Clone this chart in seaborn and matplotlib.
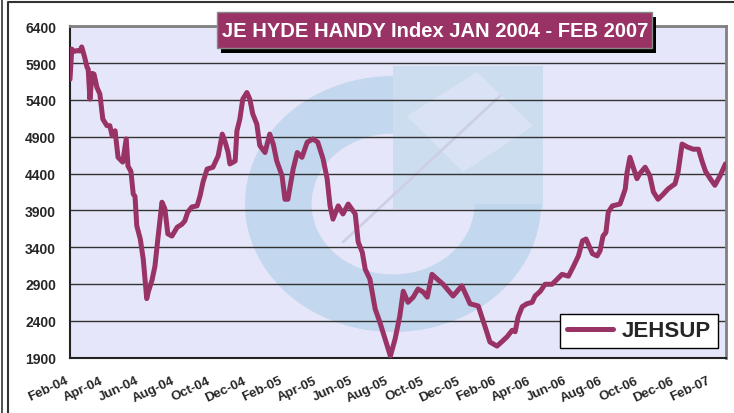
import matplotlib
matplotlib.use("Agg")
import matplotlib.pyplot as plt
import matplotlib.dates as mdates
from matplotlib.patches import Wedge, Rectangle, Polygon
from matplotlib.lines import Line2D
from matplotlib.transforms import Affine2D, ScaledTranslation
import seaborn as sns
import pandas as pd

# ---------------- data ----------------
dates = [
    "2004-02-01", "2004-02-04", "2004-02-08", "2004-02-14", "2004-02-18", "2004-02-21",
    "2004-02-26", "2004-03-01", "2004-03-03", "2004-03-06", "2004-03-10", "2004-03-13",
    "2004-03-18", "2004-03-23", "2004-03-28", "2004-04-04", "2004-04-09", "2004-04-13",
    "2004-04-18", "2004-04-23", "2004-05-01", "2004-05-07", "2004-05-10", "2004-05-15",
    "2004-05-19", "2004-05-22", "2004-05-25", "2004-05-31", "2004-06-05", "2004-06-11",
    "2004-06-14", "2004-06-20", "2004-06-25", "2004-06-30", "2004-07-07", "2004-07-12",
    "2004-07-17", "2004-07-24", "2004-08-02", "2004-08-10", "2004-08-15", "2004-08-20",
    "2004-08-27", "2004-09-05", "2004-09-10", "2004-09-15", "2004-09-22", "2004-10-02",
    "2004-10-11", "2004-10-18", "2004-10-23", "2004-10-28", "2004-10-31", "2004-11-09",
    "2004-11-12", "2004-11-17", "2004-11-22", "2004-11-29", "2004-12-04", "2004-12-09",
    "2004-12-16", "2004-12-21", "2004-12-30", "2005-01-07", "2005-01-13", "2005-01-19",
    "2005-01-28", "2005-02-02", "2005-02-07", "2005-02-16", "2005-02-23", "2005-03-03",
    "2005-03-12", "2005-03-22", "2005-03-30", "2005-04-08", "2005-04-15", "2005-04-20",
    "2005-04-25", "2005-05-04", "2005-05-12", "2005-05-21", "2005-06-02", "2005-06-07",
    "2005-06-14", "2005-06-19", "2005-06-27", "2005-07-06", "2005-07-14", "2005-07-23",
    "2005-08-01", "2005-08-09", "2005-08-17", "2005-08-23", "2005-08-31", "2005-09-09",
    "2005-09-17", "2005-09-26", "2005-10-03", "2005-10-11", "2005-10-20", "2005-10-30",
    "2005-11-16", "2005-12-01", "2005-12-15", "2005-12-29", "2006-01-10", "2006-01-18",
    "2006-01-30", "2006-02-08", "2006-02-16", "2006-02-25", "2006-03-02", "2006-03-07",
    "2006-03-14", "2006-03-22", "2006-03-31", "2006-04-05", "2006-04-14", "2006-04-22",
    "2006-05-04", "2006-05-13", "2006-05-21", "2006-06-01", "2006-06-09", "2006-06-18",
    "2006-06-25", "2006-07-01", "2006-07-12", "2006-07-20", "2006-07-25", "2006-07-30",
    "2006-08-04", "2006-08-08", "2006-08-15", "2006-08-28", "2006-09-02", "2006-09-06",
    "2006-09-09", "2006-09-14", "2006-09-19", "2006-09-26", "2006-10-01", "2006-10-10",
    "2006-10-18", "2006-10-24", "2006-11-01", "2006-11-10", "2006-11-18", "2006-11-30",
    "2006-12-05", "2006-12-12", "2006-12-21", "2006-12-31", "2007-01-09", "2007-01-15",
    "2007-01-21", "2007-01-29", "2007-02-06", "2007-02-15", "2007-02-24",
]
jehsup = [
    5680, 6090, 6060, 6070, 6065, 6120,
    5980, 5845, 5820, 5410, 5760, 5750,
    5570, 5480, 5140, 5050, 5050, 4910,
    4980, 4620, 4555, 4870, 4500, 4430,
    4120, 4090, 3690, 3510, 3240, 2700,
    2800, 2950, 3140, 3510, 4010, 3920,
    3580, 3550, 3670, 3710, 3755, 3875,
    3945, 3960, 4095, 4280, 4460, 4485,
    4640, 4935, 4825, 4685, 4530, 4570,
    4980, 5140, 5410, 5500, 5410, 5210,
    5070, 4780, 4685, 4935, 4800, 4570,
    4370, 4050, 4050, 4460, 4685, 4620,
    4825, 4870, 4825, 4600, 4330, 3960,
    3780, 3960, 3850, 3985, 3850, 3470,
    3330, 3100, 2965, 2560, 2380, 2150,
    1920, 2150, 2460, 2800, 2650, 2720,
    2830, 2790, 2720, 3030, 2965, 2895,
    2735, 2875, 2630, 2600, 2310, 2110,
    2055, 2120, 2180, 2270, 2250, 2450,
    2590, 2630, 2650, 2735, 2800, 2895,
    2895, 2965, 3030, 3005, 3130, 3280,
    3485, 3510, 3310, 3280, 3350, 3550,
    3600, 3875, 3960, 3985, 4095, 4190,
    4410, 4620, 4500, 4330, 4400, 4485,
    4370, 4150, 4050, 4120, 4190, 4260,
    4410, 4800, 4760, 4730, 4730, 4570,
    4430, 4330, 4240, 4370, 4530,
]
series_name = "JEHSUP"
title_text = "JE HYDE HANDY Index JAN 2004 - FEB 2007"
y_ticks = [1900, 2400, 2900, 3400, 3900, 4400, 4900, 5400, 5900, 6400]
x_start, x_end = "2004-02-01", "2007-02-25"

df = pd.DataFrame({"date": pd.to_datetime(dates), "value": jehsup, "series": series_name})

# ---------------- style ----------------
sns.set_style("white")
plt.rcParams["font.family"] = ["Liberation Sans", "DejaVu Sans"]
plt.rcParams["font.weight"] = "bold"

LINE = "#993366"
W, H = 734, 414
fig = plt.figure(figsize=(W / 100, H / 100), dpi=100)
fig.patch.set_facecolor("white")

L, R, T, B = 70, 726, 27.3, 358.5
ax = fig.add_axes([L / W, (H - B) / H, (R - L) / W, (B - T) / H])
ax.set_facecolor("#E6E6FA")


def px_trans(sx=1.0, sy=1.0, cx=0.0, cy=0.0):
    # coordinates given in image pixels (y downwards)
    return (Affine2D().scale(sx, sy).translate(cx, cy)
            + Affine2D().scale(1, -1).translate(0, H)
            + Affine2D().scale(1 / 100.0) + fig.dpi_scale_trans)


# watermark logo (approximation)
wm = []
wm.append(Rectangle((393, 67), 150, 143, transform=px_trans(), fc="#C9DCEF", ec="none"))
wm.append(Polygon([(477, 73), (533, 127), (463, 173), (407, 117)], closed=True,
                  transform=px_trans(), fc="#DDE5F6", ec="none"))
wm.append(Wedge((0, 0), 1.0, 0, 270, width=0.45, transform=px_trans(148, 128, 393, 205),
                fc="#BDD5EC", ec="none"))
for p in wm:
    p.set_zorder(0.2)
    p.set_alpha(0.85)
    ax.add_patch(p)
    p.set_clip_path(ax.patch)
ln = Line2D([343, 500], [243, 97], transform=px_trans(), color="#CDCFE6", lw=2.0, zorder=0.3)
ax.add_line(ln)
ln.set_clip_path(ax.patch)

sns.lineplot(data=df, x="date", y="value", hue="series", palette=[LINE], ax=ax,
             linewidth=3.6, legend=True, zorder=3)

ax.set_xlim(pd.Timestamp(x_start), pd.Timestamp(x_end))
ax.set_ylim(y_ticks[0], y_ticks[-1])
ax.set_yticks(y_ticks)
ax.xaxis.set_major_locator(mdates.MonthLocator(bymonth=[2, 4, 6, 8, 10, 12]))
ax.xaxis.set_major_formatter(mdates.DateFormatter("%b-%y"))
ax.set_xlabel("")
ax.set_ylabel("")

ax.set_axisbelow(True)
ax.yaxis.grid(True, color="#333333", lw=1.0)
ax.xaxis.grid(False)

for s in ["left", "bottom"]:
    ax.spines[s].set_color("#222222")
    ax.spines[s].set_linewidth(1.5)
for s in ["top", "right"]:
    ax.spines[s].set_color("#808080")
    ax.spines[s].set_linewidth(2.0)

ax.tick_params(axis="both", direction="out", length=4, width=1.2, color="#222222")
ax.tick_params(axis="y", labelsize=10, pad=6)
ax.tick_params(axis="x", labelsize=9.5, pad=8)
for lab in ax.get_yticklabels():
    lab.set_fontweight("bold")
shift = ScaledTranslation(-5 / 100.0, 0, fig.dpi_scale_trans)
for lab in ax.get_xticklabels():
    lab.set_fontweight("bold")
    lab.set_rotation(25)
    lab.set_ha("right")
    lab.set_va("top")
    lab.set_rotation_mode("anchor")
    lab.set_transform(lab.get_transform() + shift)

leg = ax.legend(loc="lower right", bbox_to_anchor=((718 - L) / (R - L), (B - 349) / (B - T)),
                borderaxespad=0, frameon=True, fancybox=False, framealpha=1,
                edgecolor="black", facecolor="white", handlelength=2.1,
                prop={"size": 16, "weight": "bold"}, borderpad=0.3, handletextpad=0.4)
leg.get_frame().set_linewidth(1.0)
for h in leg.get_lines():
    h.set_linewidth(3.6)

# title box with shadow
fig.add_artist(Rectangle((221, 18), 435, 36, transform=px_trans(), fc="black", ec="none"))
fig.add_artist(Rectangle((217, 13), 435, 36, transform=px_trans(), fc="#993366", ec="#888888", lw=1))
fig.text(435 / W, 1 - 31.5 / H, title_text, color="white", fontsize=14.5, fontweight="bold",
         ha="center", va="center")

# outer frame lines
fig.add_artist(Line2D([2, 2], [0, H], transform=px_trans(), color="#333333", lw=1.2))
fig.add_artist(Line2D([8, 8, W], [H, 3, 3], transform=px_trans(), color="#333333", lw=1.5))

fig.savefig("out.png", dpi=100, facecolor="white")
